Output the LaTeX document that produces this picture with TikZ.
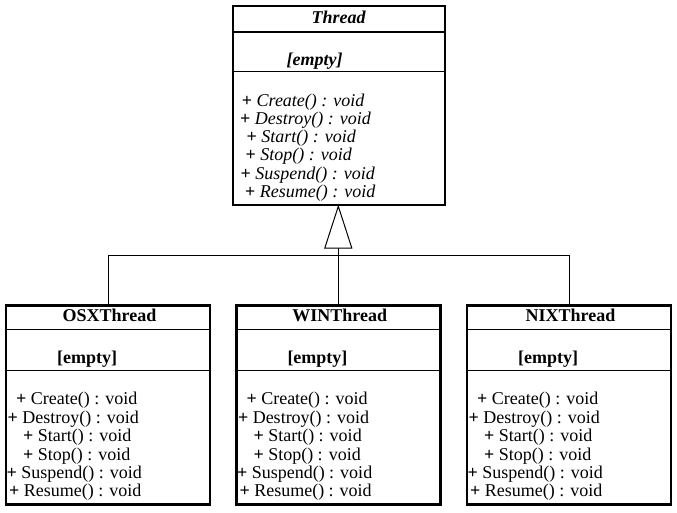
\documentclass[tikz,border=0pt]{standalone}
\usepackage{fontspec}
\setmainfont{Liberation Serif}
\tikzset{
  classbox/.style={draw, rectangle, line width=2.4pt, inner sep=0pt, outer sep=0pt, minimum height=199pt},
  divider/.style={line width=1.3pt},
  link/.style={line width=1pt},
  member/.style={anchor=base west, inner sep=0pt, font=\fontsize{18}{18}\selectfont},
  classtitle/.style={anchor=base, inner sep=0pt, font=\fontsize{18}{18}\selectfont\bfseries},
}
\newcommand\mysubclass[3]{%
  \node[classbox, minimum width=204pt, anchor=north west] (#1) at (#2,305.5) {};
  \draw[divider] (#2,329.8) -- ++(204,0);
  \draw[divider] (#2,370.3) -- ++(204,0);
  \node[classtitle] (#1-title) at (#2+103.5,321.7) {#3};
  \node[member, font=\fontsize{18}{18}\selectfont\bfseries] (#1-attr) at (#2+51,363.5) {[empty]};
  \node[member] (#1-m1) at (#2+10,404.3) {\textbf{+} Create() : void};
  \node[member] (#1-m2) at (#2+1.5,423) {\textbf{+} Destroy() : void};
  \node[member] (#1-m3) at (#2+17,441.6) {\textbf{+} Start() : void};
  \node[member] (#1-m4) at (#2+17,460) {\textbf{+} Stop() : void};
  \node[member] (#1-m5) at (#2+0.5,478.4) {\textbf{+} Suspend() : void};
  \node[member] (#1-m6) at (#2+3,496.8) {\textbf{+} Resume() : void};
}
\begin{document}
\begin{tikzpicture}[x=1pt,y=-1pt]
\useasboundingbox (0,0) rectangle (677,512);
% base class
\node[classbox, minimum width=212pt, minimum height=199.3pt] (thread) at (338.7,105.35) {};
\draw[divider] (232.7,32) -- ++(212,0);
\draw[divider] (232.7,71.2) -- ++(212,0);
\node[classtitle, font=\fontsize{18}{18}\selectfont\bfseries\itshape] (thread-title) at (338.7,23.5) {Thread};
\node[member, font=\fontsize{18}{18}\selectfont\bfseries\itshape] (thread-attr) at (286.5,65) {[empty]};
\node[member] (thread-m1) at (241.7,106) {\textbf{+} \textit{Create() : void}};
\node[member] (thread-m2) at (240,124.5) {\textbf{+} \textit{Destroy() : void}};
\node[member] (thread-m3) at (246.5,142.5) {\textbf{+} \textit{Start() : void}};
\node[member] (thread-m4) at (245.5,160.8) {\textbf{+} \textit{Stop() : void}};
\node[member] (thread-m5) at (240.5,179) {\textbf{+} \textit{Suspend() : void}};
\node[member] (thread-m6) at (245,197) {\textbf{+} \textit{Resume() : void}};
% subclasses
\mysubclass{osx}{6}{OSXThread}
\mysubclass{win}{236.3}{WINThread}
\mysubclass{nix}{467}{NIXThread}
% generalization
\coordinate (apex) at (338.3,206.3);
\coordinate (tribase) at (338.3,248);
\coordinate (bus) at (338.3,255.5);
\draw[link, fill=white] (apex) -- ++(-13.5,41.7) -- ++(27,0) -- cycle;
\draw[link] (tribase) -- (win.north);
\draw[link] (osx.north) |- (bus) -| (nix.north);
\end{tikzpicture}
\end{document}
